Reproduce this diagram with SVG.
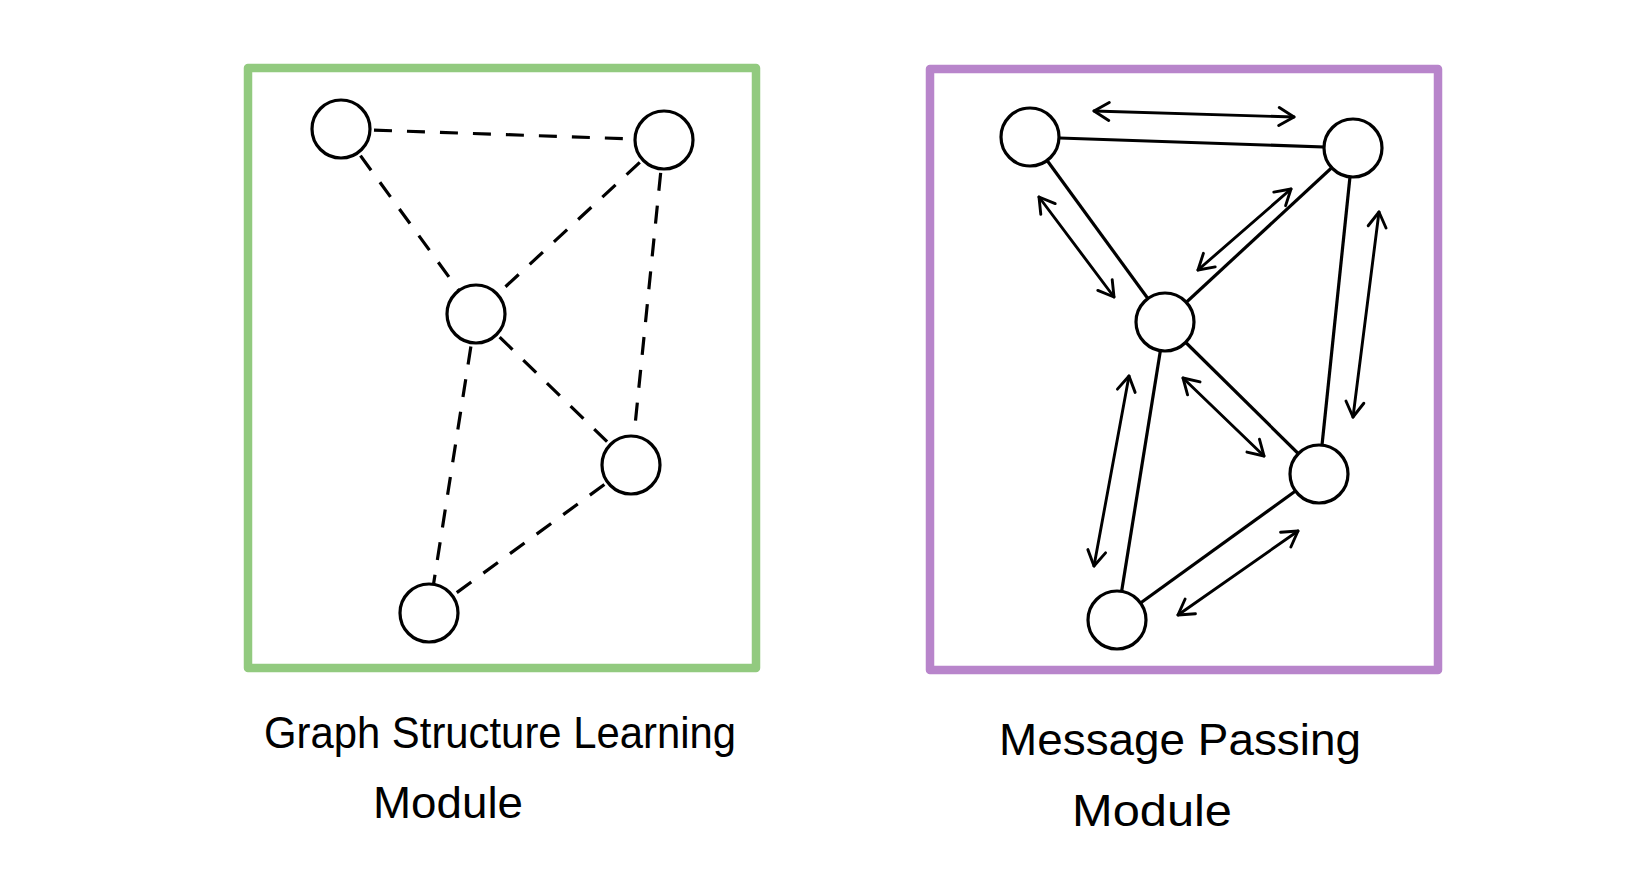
<svg xmlns="http://www.w3.org/2000/svg" width="1640" height="891" viewBox="0 0 1640 891">
  <defs>
    <style>
      .frame { fill: none; stroke-width: 8.5; stroke-linejoin: round; stroke-linecap: round; }
      .node { fill: #ffffff; stroke: #000000; stroke-width: 3.2; }
      .dash { stroke: #000000; stroke-width: 3.2; stroke-dasharray: 18 15; fill: none; }
      .solid { stroke: #000000; stroke-width: 3.2; fill: none; }
      .msg { stroke: #000000; stroke-width: 2.9; fill: none; stroke-linecap: round; marker-start: url(#head); marker-end: url(#head); }
      .label { font-family: "Liberation Sans", Arial, sans-serif; font-size: 44px; fill: #000000; }
    </style>
    <marker id="head" viewBox="-18 -11 20 22" markerWidth="20" markerHeight="22" refX="0" refY="0" orient="auto-start-reverse" markerUnits="userSpaceOnUse">
      <path d="M -15 -9 L 0 0 L -15 9" fill="none" stroke="#000000" stroke-width="2.9" stroke-linecap="round" stroke-linejoin="round"/>
    </marker>
  </defs>
  <rect width="1640" height="891" fill="#ffffff"/>

  <g id="gsl-frame">
    <rect class="frame" x="248" y="68" width="508" height="600" stroke="#92ca7f"/>
  </g>
  <g id="mp-frame">
    <rect class="frame" x="930" y="69" width="508" height="601" stroke="#b885cb"/>
  </g>

  <g id="gsl-connectors">
    <line class="dash" x1="341" y1="129" x2="664" y2="140"/>
    <line class="dash" x1="341" y1="129" x2="476" y2="314"/>
    <line class="dash" x1="664" y1="140" x2="476" y2="314"/>
    <line class="dash" x1="664" y1="140" x2="631" y2="465"/>
    <line class="dash" x1="476" y1="314" x2="631" y2="465"/>
    <line class="dash" x1="476" y1="314" x2="429" y2="613"/>
    <line class="dash" x1="631" y1="465" x2="429" y2="613"/>
  </g>

  <g id="gsl-node-1"><circle class="node" cx="341" cy="129" r="29"/></g>
  <g id="gsl-node-2"><circle class="node" cx="664" cy="140" r="29"/></g>
  <g id="gsl-node-3"><circle class="node" cx="476" cy="314" r="29"/></g>
  <g id="gsl-node-4"><circle class="node" cx="631" cy="465" r="29"/></g>
  <g id="gsl-node-5"><circle class="node" cx="429" cy="613" r="29"/></g>

  <g id="mp-connectors">
    <line class="solid" x1="1030" y1="137" x2="1353" y2="148"/>
    <line class="solid" x1="1030" y1="137" x2="1165" y2="322"/>
    <line class="solid" x1="1353" y1="148" x2="1165" y2="322"/>
    <line class="solid" x1="1353" y1="148" x2="1319" y2="474"/>
    <line class="solid" x1="1165" y1="322" x2="1319" y2="474"/>
    <line class="solid" x1="1165" y1="322" x2="1117" y2="620"/>
    <line class="solid" x1="1319" y1="474" x2="1117" y2="620"/>
  </g>

  <g id="mp-messages">
    <line class="msg" x1="1094" y1="111" x2="1294" y2="117"/>
    <line class="msg" x1="1039" y1="197" x2="1114" y2="297"/>
    <line class="msg" x1="1291" y1="189" x2="1198" y2="270"/>
    <line class="msg" x1="1379" y1="212" x2="1353" y2="417"/>
    <line class="msg" x1="1183" y1="378" x2="1264" y2="456"/>
    <line class="msg" x1="1129" y1="376" x2="1094" y2="566"/>
    <line class="msg" x1="1298" y1="531" x2="1178" y2="615"/>
  </g>

  <g id="mp-node-1"><circle class="node" cx="1030" cy="137" r="29"/></g>
  <g id="mp-node-2"><circle class="node" cx="1353" cy="148" r="29"/></g>
  <g id="mp-node-3"><circle class="node" cx="1165" cy="322" r="29"/></g>
  <g id="mp-node-4"><circle class="node" cx="1319" cy="474" r="29"/></g>
  <g id="mp-node-5"><circle class="node" cx="1117" cy="620" r="29"/></g>

  <g id="gsl-label">
    <text class="label" x="264" y="748" textLength="472" lengthAdjust="spacingAndGlyphs">Graph Structure Learning</text>
    <text class="label" x="373" y="818" textLength="150" lengthAdjust="spacingAndGlyphs">Module</text>
  </g>
  <g id="mp-label">
    <text class="label" x="999" y="755" textLength="362" lengthAdjust="spacingAndGlyphs">Message Passing</text>
    <text class="label" x="1072" y="826" textLength="160" lengthAdjust="spacingAndGlyphs">Module</text>
  </g>
</svg>
